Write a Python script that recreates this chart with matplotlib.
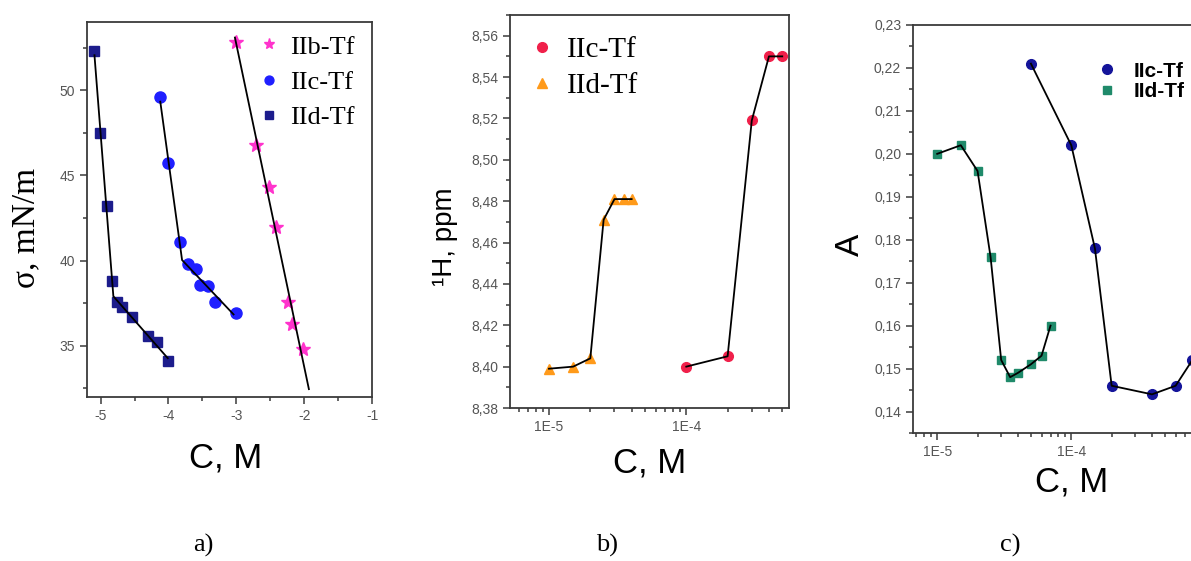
#surface tension / NMR / absorbance vs concentration, three panels a) b) c)
import numpy as np
import matplotlib
matplotlib.use("Agg")
import matplotlib.pyplot as plt
from matplotlib.ticker import MultipleLocator, FixedLocator, FixedFormatter, LogLocator, NullFormatter, FuncFormatter

# panel a) sigma vs lg C
a_iib_x = [-3.0, -2.71, -2.52, -2.41, -2.24, -2.18, -2.01]
a_iib_y = [52.8, 46.8, 44.3, 42.0, 37.6, 36.3, 34.8]
a_iic_x = [-4.12, -4.01, -3.83, -3.71, -3.6, -3.54, -3.41, -3.32, -3.0]
a_iic_y = [49.6, 45.7, 41.1, 39.8, 39.5, 38.6, 38.5, 37.6, 36.9]
a_iid_x = [-5.09, -5.01, -4.91, -4.83, -4.76, -4.68, -4.53, -4.3, -4.17, -4.01]
a_iid_y = [52.3, 47.5, 43.2, 38.8, 37.6, 37.3, 36.7, 35.6, 35.2, 34.1]

# panel b) 1H shift vs C
b_iic_x = [1.0e-4, 2.0e-4, 3.0e-4, 4.0e-4, 5.0e-4]
b_iic_y = [8.400, 8.405, 8.519, 8.550, 8.550]
b_iid_x = [1.0e-5, 1.5e-5, 2.0e-5, 2.5e-5, 3.0e-5, 3.5e-5, 4.0e-5]
b_iid_y = [8.399, 8.400, 8.404, 8.471, 8.481, 8.481, 8.481]

# panel c) absorbance vs C
c_iic_x = [5.0e-5, 1.0e-4, 1.5e-4, 2.0e-4, 4.0e-4, 6.0e-4, 8.0e-4]
c_iic_y = [0.221, 0.202, 0.178, 0.146, 0.144, 0.146, 0.152]
c_iid_x = [1.0e-5, 1.5e-5, 2.0e-5, 2.5e-5, 3.0e-5, 3.5e-5, 4.0e-5, 5.0e-5, 6.0e-5, 7.0e-5]
c_iid_y = [0.200, 0.202, 0.196, 0.176, 0.152, 0.148, 0.149, 0.151, 0.153, 0.160]

W, H = 1191, 561
SERIF = ['Liberation Serif', 'DejaVu Serif']
SANS = ['Liberation Sans', 'DejaVu Sans']
TICK_COLOR = '#555555'
plt.rcParams['axes.unicode_minus'] = False  # the original uses a plain hyphen


def px_box(left, top, right, bottom):
    """pixel box -> figure fraction [l, b, w, h]"""
    return [left / W, 1 - bottom / H, (right - left) / W, (bottom - top) / H]


def fig_text(fig, x, y, s, **kw):
    fig.text(x / W, 1 - y / H, s, ha='center', va='center', **kw)


def style_axes(ax):
    for sp in ax.spines.values():
        sp.set_color('#3a3a3a')
        sp.set_linewidth(1.3)
    ax.tick_params(which='both', direction='out', top=False, right=False,
                   colors='#3a3a3a', labelcolor=TICK_COLOR, labelsize=10, width=1.1)
    ax.tick_params(which='major', length=5)
    ax.tick_params(which='minor', length=3)
    for lab in ax.get_xticklabels() + ax.get_yticklabels():
        lab.set_family(SANS)


def comma_fmt(digits):
    return FuncFormatter(lambda v, p: f"{v:.{digits}f}".replace('.', ','))


def log_xaxis(ax, lo, hi):
    ax.set_xscale('log')
    ax.set_xlim(lo, hi)
    ax.xaxis.set_major_locator(FixedLocator([1e-5, 1e-4]))
    ax.xaxis.set_major_formatter(FixedFormatter(['1E-5', '1E-4']))
    ax.xaxis.set_minor_locator(LogLocator(base=10, subs=np.arange(2, 10), numticks=20))
    ax.xaxis.set_minor_formatter(NullFormatter())


def broken_fit(x, y, n_first, x_end_pad=0.0):
    """two straight-line fits, joined where they cross"""
    x = np.array(x)
    y = np.array(y)
    k1, b1 = np.polyfit(x[:n_first], y[:n_first], 1)
    k2, b2 = np.polyfit(x[n_first:], y[n_first:], 1)
    xc = (b2 - b1) / (k1 - k2)
    xs = np.array([x[0], xc, x[-1] - x_end_pad])
    ys = np.array([k1 * x[0] + b1, k1 * xc + b1, k2 * (x[-1] - x_end_pad) + b2])
    return xs, ys


fig = plt.figure(figsize=(W / 100, H / 100), dpi=100)

# ---- a)
ax = fig.add_axes(px_box(87, 22, 372, 397))
x = np.array(a_iib_x)
k, b = np.polyfit(x, a_iib_y, 1)
xl = np.array([x[0] - 0.02, x[-1] + 0.08])
ax.plot(xl, k * xl + b, color='black', lw=1.3, zorder=3)
xs, ys = broken_fit(a_iic_x, a_iic_y, 3, x_end_pad=0.04)
ax.plot(xs, ys, color='black', lw=1.3, zorder=3)
xs, ys = broken_fit(a_iid_x, a_iid_y, 4)
ax.plot(xs, ys, color='black', lw=1.3, zorder=3)
ax.plot(a_iib_x, a_iib_y, ls='none', marker='*', ms=10, color='#ff33cc', mec='#ff33cc', label='IIb-Tf', zorder=2)
ax.plot(a_iic_x, a_iic_y, ls='none', marker='o', ms=8, color='#1f1fff', mec='#1f1fff', label='IIc-Tf', zorder=2)
ax.plot(a_iid_x, a_iid_y, ls='none', marker='s', ms=7, color='#1c1c8c', mec='#1c1c8c', label='IId-Tf', zorder=2)
ax.set_xlim(-5.2, -1)
ax.set_ylim(32, 54)
ax.xaxis.set_major_locator(MultipleLocator(1))
ax.xaxis.set_minor_locator(MultipleLocator(0.5))
ax.yaxis.set_major_locator(MultipleLocator(5))
ax.yaxis.set_minor_locator(MultipleLocator(2.5))
style_axes(ax)
ax.legend(loc='upper left', bbox_to_anchor=(0.6, 0.965), frameon=False, numpoints=1, markerscale=0.8,
          handlelength=0.8, handletextpad=0.4, labelspacing=0.45, borderpad=0, borderaxespad=0,
          prop={'family': SERIF, 'size': 19})
fig_text(fig, 226, 458, 'C, M', family=SANS, fontsize=25)
fig_text(fig, 26, 228, 'σ, mN/m', family=SERIF, fontsize=24, rotation=90)
fig_text(fig, 203, 545, 'a)', family=SERIF, fontsize=19)

# ---- b)
ax = fig.add_axes(px_box(510, 15, 789, 408))
ax.plot(b_iid_x, b_iid_y, color='black', lw=1.3, zorder=3)
ax.plot(b_iic_x, b_iic_y, color='black', lw=1.3, zorder=3)
ax.plot(b_iic_x, b_iic_y, ls='none', marker='o', ms=7, color='#f0204a', mec='#f0204a', label='IIc-Tf', zorder=2)
ax.plot(b_iid_x, b_iid_y, ls='none', marker='^', ms=7, color='#ff9a1a', mec='#ff9a1a', label='IId-Tf', zorder=2)
log_xaxis(ax, 5.2e-6, 5.6e-4)
ax.set_ylim(8.38, 8.57)
ax.yaxis.set_major_locator(MultipleLocator(0.02))
ax.yaxis.set_minor_locator(MultipleLocator(0.01))
ax.yaxis.set_major_formatter(comma_fmt(2))
style_axes(ax)
ax.legend(loc='upper left', bbox_to_anchor=(0.072, 0.945), frameon=False, numpoints=1,
          handlelength=0.8, handletextpad=0.46, labelspacing=0.34, borderpad=0, borderaxespad=0,
          prop={'family': SERIF, 'size': 21})
fig_text(fig, 650, 463, 'C, M', family=SANS, fontsize=25)
fig_text(fig, 445, 237, '¹H, ppm', family=SANS, fontsize=20, rotation=90)
fig_text(fig, 607, 545, 'b)', family=SERIF, fontsize=19)

# ---- c) (cut by the right edge of the picture)
ax = fig.add_axes(px_box(913, 25, 1229, 433))
ax.plot(c_iid_x, c_iid_y, color='black', lw=1.3, zorder=3)
ax.plot(c_iic_x, c_iic_y, color='black', lw=1.3, zorder=3)
ax.plot(c_iic_x, c_iic_y, ls='none', marker='o', ms=7, color='#14149a', mec='#14149a', label='IIc-Tf', zorder=2)
ax.plot(c_iid_x, c_iid_y, ls='none', marker='s', ms=6, color='#1f8a6a', mec='#1f8a6a', label='IId-Tf', zorder=2)
log_xaxis(ax, 6.6e-6, 1.5e-3)
ax.set_ylim(0.135, 0.23)
ax.yaxis.set_major_locator(MultipleLocator(0.01))
ax.yaxis.set_minor_locator(MultipleLocator(0.005))
ax.yaxis.set_major_formatter(comma_fmt(2))
style_axes(ax)
ax.legend(loc='upper left', bbox_to_anchor=(0.588, 0.91), frameon=False, numpoints=1,
          handlelength=0.8, handletextpad=0.86, labelspacing=0.08, borderpad=0, borderaxespad=0,
          prop={'family': SANS, 'size': 15, 'weight': 'bold'})
fig_text(fig, 1072, 482, 'C, M', family=SANS, fontsize=25)
fig_text(fig, 850, 245, 'A', family=SANS, fontsize=24, rotation=90)
fig_text(fig, 1010, 545, 'c)', family=SERIF, fontsize=19)

plt.savefig('out.png', dpi=100)
